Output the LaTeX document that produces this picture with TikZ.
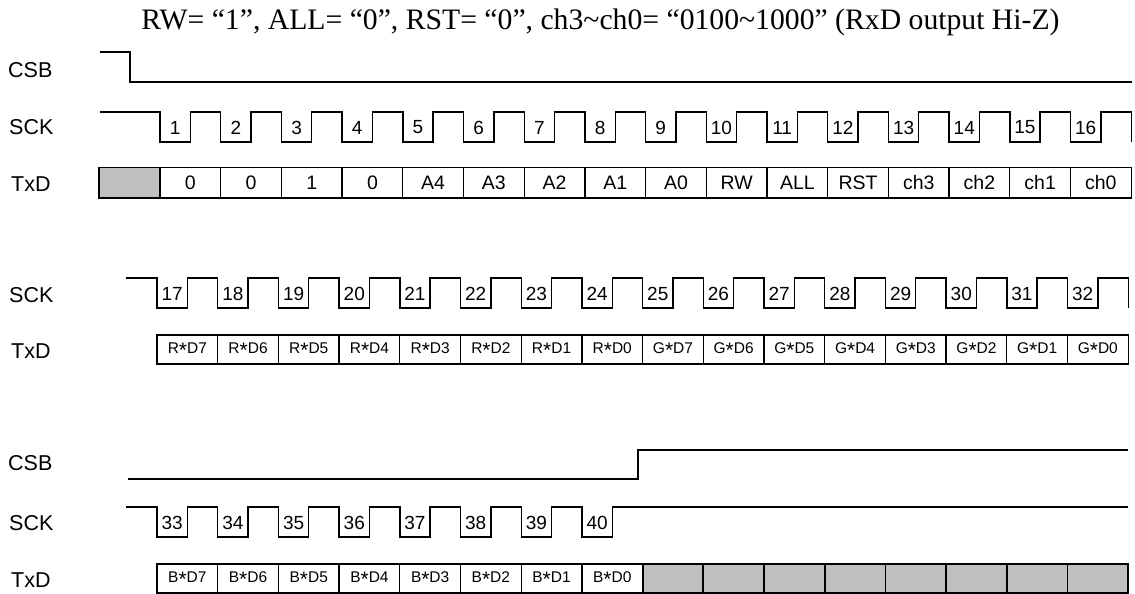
\documentclass[tikz,border=0pt]{standalone}
\usepackage{fontspec}
\setmainfont{Liberation Serif}
\newfontfamily\lsans{Liberation Sans}
\newcommand{\mast}{\raisebox{-0.4ex}{\scalebox{1.35}{*}}}
\begin{document}
\begin{tikzpicture}[x=1pt,y=-1pt,
  sig/.style={line width=1.4pt, line join=miter},
  cellbox/.style={line width=1.3pt},
  graycell/.style={line width=1.8pt, fill=black!25},
  lab/.style={font=\lsans\fontsize{21.5}{22}\selectfont, anchor=west, inner sep=0pt},
  num/.style={font=\lsans\fontsize{19}{19}\selectfont, inner sep=0pt},
  bigtxt/.style={font=\lsans\fontsize{19.5}{20}\selectfont, inner sep=0pt},
  smalltxt/.style={font=\lsans\fontsize{15.5}{16}\selectfont, inner sep=0pt}]
\useasboundingbox (0,0) rectangle (1135,594);
\def\P{60.7}
% title
\node[font=\fontsize{29.7}{30}\selectfont, anchor=base, inner sep=0pt] (title) at (600.5,30)
  {RW= “1”, ALL= “0”, RST= “0”, ch3\textasciitilde ch0= “0100\textasciitilde 1000” (RxD output Hi-Z)};

% ---------- section 1 ----------
\node[lab] (csb1) at (8,70) {CSB};
\node[lab] (sck1) at (9,127) {SCK};
\node[lab] (txd1) at (11,184) {TxD};
\draw[sig] (100,52) -- (130,52) -- (130,82) -- (1132,82);
\draw[sig] (100,112) foreach \i in {0,...,15} {
  -- ({160+\i*\P},112) -- ({160+\i*\P},142) -- ({160+\i*\P+\P/2},142) -- ({160+\i*\P+\P/2},112) }
  -- ({160+16*\P},112) -- ({160+16*\P},142);
\foreach \i [evaluate=\i as \n using int(\i+1)] in {0,...,15}
  \node[num] (c\n) at ({160+\i*\P+\P/4},127.5) {\n};
\draw[cellbox, fill=black!25] (99,167.5) rectangle (160,198);
\foreach \t [count=\i from 0] in {0,0,1,0,A4,A3,A2,A1,A0,RW,ALL,RST,ch3,ch2,ch1,ch0} {
  \draw[cellbox] ({160+\i*\P},167.5) rectangle ({160+(\i+1)*\P},198);
  \node[bigtxt] (a\i) at ({160+\i*\P+\P/2},183) {\t};
}

% ---------- section 2 ----------
\node[lab] (sck2) at (9,295) {SCK};
\node[lab] (txd2) at (11,351) {TxD};
\draw[sig] (126,278) foreach \i in {0,...,15} {
  -- ({157+\i*\P},278) -- ({157+\i*\P},308) -- ({157+\i*\P+\P/2},308) -- ({157+\i*\P+\P/2},278) }
  -- ({157+16*\P},278) -- ({157+16*\P},308);
\foreach \i [evaluate=\i as \n using int(\i+17)] in {0,...,15}
  \node[num] (c\n) at ({157+\i*\P+\P/4},293.5) {\n};
\foreach \c/\d [count=\i from 0] in {R/7,R/6,R/5,R/4,R/3,R/2,R/1,R/0,G/7,G/6,G/5,G/4,G/3,G/2,G/1,G/0} {
  \draw[cellbox] ({157+\i*\P},335) rectangle ({157+(\i+1)*\P},364);
  \node[smalltxt] (b\i) at ({157+\i*\P+\P/2},350) {\c\mast D\d};
}

% ---------- section 3 ----------
\node[lab] (csb3) at (8,463) {CSB};
\node[lab] (sck3) at (9,523) {SCK};
\node[lab] (txd3) at (11,580) {TxD};
\draw[sig] (128,479) -- (638,479) -- (638,450) -- (1128,450);
\draw[sig] (126,507) foreach \i in {0,...,7} {
  -- ({157+\i*\P},507) -- ({157+\i*\P},537) -- ({157+\i*\P+\P/2},537) -- ({157+\i*\P+\P/2},507) }
  -- (1128,507);
\foreach \i [evaluate=\i as \n using int(\i+33)] in {0,...,7}
  \node[num] (c\n) at ({157+\i*\P+\P/4},522.5) {\n};
\foreach \d [count=\i from 0] in {7,6,5,4,3,2,1,0} {
  \draw[cellbox] ({157+\i*\P},564) rectangle ({157+(\i+1)*\P},593);
  \node[smalltxt] (d\i) at ({157+\i*\P+\P/2},579) {B\mast D\d};
}
\foreach \i in {8,...,15}
  \draw[graycell] ({157+\i*\P},564) rectangle ({157+(\i+1)*\P},593);
\end{tikzpicture}
\end{document}
